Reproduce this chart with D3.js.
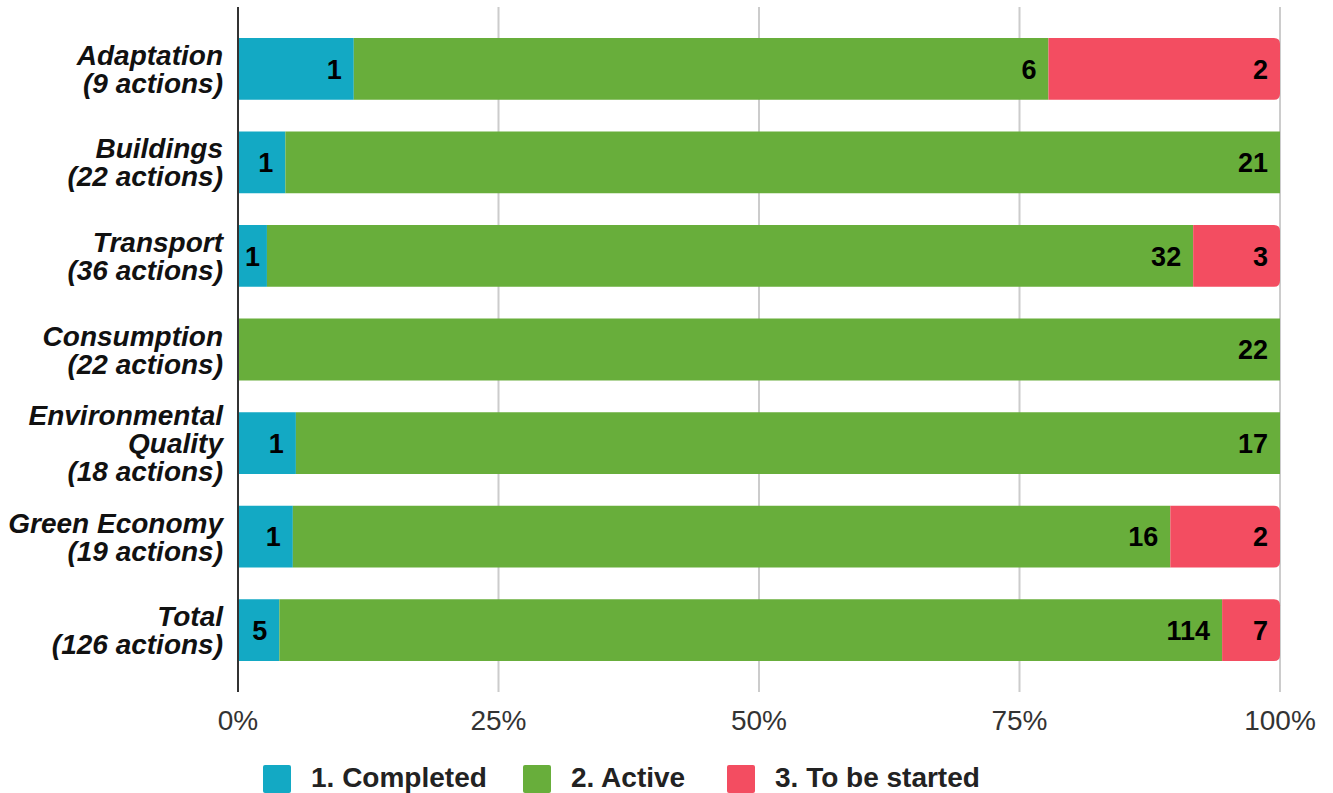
<!DOCTYPE html>
<html>
<head>
<meta charset="utf-8">
<script src="https://cdn.jsdelivr.net/npm/d3@7"></script>
<style>
  html, body { margin: 0; padding: 0; background: #fff; }
  svg { display: block; font-family: "Liberation Sans", Arial, sans-serif; }
</style>
</head>
<body>
<div id="chart"></div>
<script>
// ── Data ──────────────────────────────────────────────────────────────────
const categories = [
  ['Adaptation', '(9 actions)'],
  ['Buildings', '(22 actions)'],
  ['Transport', '(36 actions)'],
  ['Consumption', '(22 actions)'],
  ['Environmental', 'Quality', '(18 actions)'],
  ['Green Economy', '(19 actions)'],
  ['Total', '(126 actions)'],
];
const completed    = [1, 1, 1, 0, 1, 1, 5];
const active       = [6, 21, 32, 22, 17, 16, 114];
const toBeStarted  = [2, 0, 3, 0, 0, 2, 7];
const seriesNames  = ['1. Completed', '2. Active', '3. To be started'];
const seriesColors = ['#13a9c4', '#68ae3b', '#f34d61'];
const xTicks       = [0, 0.25, 0.5, 0.75, 1];

const W = 1333, H = 793;
const m = { top: 22, right: 53, bottom: 116, left: 238 };
const w = W - m.left - m.right;
const h = H - m.top - m.bottom;

const svg = d3.select('#chart').append('svg').attr('width', W).attr('height', H);
const g = svg.append('g').attr('transform', `translate(${m.left},${m.top})`);

const x = d3.scaleLinear().domain([0, 1]).range([0, w]);
const y = d3.scaleBand().domain(d3.range(categories.length)).range([0, h]).paddingInner(0.34).paddingOuter(0.17);

// gridlines
g.selectAll('line.grid').data(xTicks.slice(1)).join('line')
  .attr('x1', d => x(d)).attr('x2', d => x(d))
  .attr('y1', -15).attr('y2', h + 15)
  .attr('stroke', '#cccccc').attr('stroke-width', 2);

// tick labels
g.selectAll('text.tick').data(xTicks).join('text')
  .attr('x', d => x(d)).attr('y', h + 53)
  .attr('text-anchor', 'middle').attr('font-size', 28).attr('fill', '#333')
  .text(d => d3.format('.0%')(d));

// stacked rows
const rows = categories.map((c, i) => {
  const vals = [completed[i], active[i], toBeStarted[i]];
  const tot = d3.sum(vals);
  let acc = 0;
  const segs = vals.map((v, k) => {
    const s = { k, v, x0: acc / tot, x1: (acc + v) / tot };
    acc += v;
    return s;
  }).filter(s => s.v > 0);
  return { i, segs };
});

const r = 6;
rows.forEach(row => {
  const y0 = y(row.i), bh = y.bandwidth();
  row.segs.forEach(s => {
    const a = x(s.x0), b = x(s.x1);
    let d;
    if (s.k === 2) {
      d = `M${a},${y0}H${b - r}Q${b},${y0} ${b},${y0 + r}V${y0 + bh - r}Q${b},${y0 + bh} ${b - r},${y0 + bh}H${a}Z`;
    } else {
      d = `M${a},${y0}H${b}V${y0 + bh}H${a}Z`;
    }
    g.append('path').attr('d', d).attr('fill', seriesColors[s.k]);

    const t = g.append('text')
      .attr('y', y0 + bh / 2).attr('dy', '0.36em')
      .attr('font-size', 27).attr('font-weight', 'bold').attr('fill', '#000')
      .text(s.v);
    const tw = t.node().getComputedTextLength();
    if (b - a < tw + 22) {
      t.attr('x', (a + b) / 2).attr('text-anchor', 'middle');
    } else {
      t.attr('x', b - 12).attr('text-anchor', 'end');
    }
  });
});

// axis line
g.append('line').attr('x1', 0).attr('x2', 0).attr('y1', -15).attr('y2', h + 15)
  .attr('stroke', '#333').attr('stroke-width', 2);

// category labels
categories.forEach((lines, i) => {
  const cy = y(i) + y.bandwidth() / 2;
  const lh = 28;
  const t = g.append('text')
    .attr('text-anchor', 'end').attr('font-size', 28)
    .attr('font-weight', 'bold').attr('font-style', 'italic').attr('fill', '#111');
  lines.forEach((ln, j) => {
    t.append('tspan').attr('x', -15)
      .attr('y', cy + (j - (lines.length - 1) / 2) * lh).attr('dy', '0.36em')
      .text(ln);
  });
});

// legend
const legX = [263, 523, 727];
const leg = svg.append('g');
seriesNames.forEach((n, k) => {
  leg.append('rect').attr('x', legX[k]).attr('y', 765).attr('width', 28).attr('height', 28)
    .attr('rx', 2).attr('fill', seriesColors[k]);
  leg.append('text').attr('x', legX[k] + 48).attr('y', 787)
    .attr('font-size', 28).attr('font-weight', 'bold').attr('fill', '#222')
    .text(n);
});
</script>
</body>
</html>
